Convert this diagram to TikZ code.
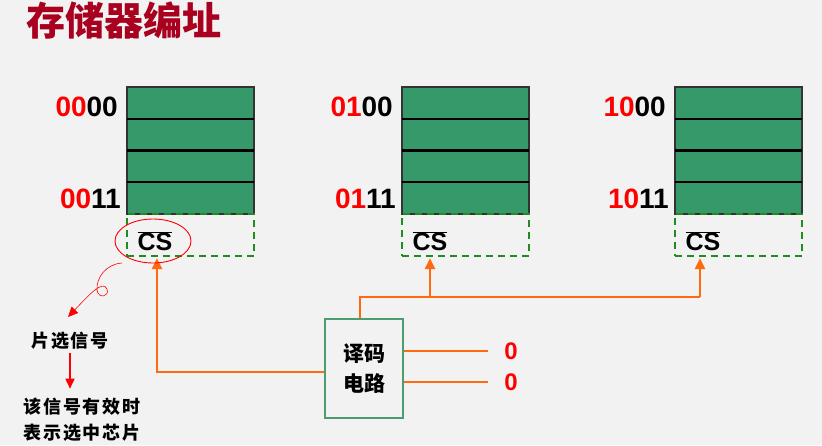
\documentclass[tikz,border=0pt]{standalone}
\usepackage{fontspec}
\setmainfont{Liberation Sans}
\newfontfamily\cjk{Noto Sans CJK SC}
\newfontfamily\cjkw{Noto Sans CJK SC}[LetterSpace=10]
\usetikzlibrary{arrows.meta,shapes.geometric}
\definecolor{bgray}{HTML}{F2F2F2}
\definecolor{titlered}{HTML}{A8001E}
\definecolor{memgreen}{HTML}{35996A}
\definecolor{dashgreen}{HTML}{1E8C1E}
\definecolor{decgreen}{HTML}{4A9E6E}
\definecolor{wireorange}{HTML}{FF6A10}
\begin{document}
\begin{tikzpicture}[x=1pt, y=-1pt,
  title/.style={font=\cjk\bfseries\fontsize{39}{42}\selectfont, text=titlered},
  memblk/.style={draw=black!80, line width=1.5pt, fill=memgreen, minimum width=127pt, minimum height=127pt, inner sep=0pt},
  rowline/.style={black, line width=2.4pt},
  csbox/.style={draw=dashgreen, line width=2.2pt, dash pattern=on 7pt off 5pt, minimum width=127pt, minimum height=42pt, inner sep=0pt},
  cstext/.style={font=\bfseries\fontsize{25}{27}\selectfont, inner sep=0pt},
  addr/.style={font=\bfseries\fontsize{28}{30}\selectfont, inner sep=0pt},
  decbox/.style={draw=decgreen, line width=2.2pt, minimum width=78pt, minimum height=99pt, align=center, font=\cjk\bfseries\fontsize{21}{30}\selectfont},
  wire/.style={wireorange, line width=2.4pt},
  tip/.style={-{Triangle[length=11pt,width=10pt]}},
  note/.style={font=\cjkw\bfseries\fontsize{18}{26}\selectfont, align=center},
  hand/.style={red, line width=0.6pt},
  zero/.style={text=red, font=\bfseries\fontsize{24}{26}\selectfont, inner sep=0pt}]
  \fill[bgray] (0,0) rectangle (822,445);
  \useasboundingbox (0,0) rectangle (822,445);
  \node[title] (ttl) at (124,21) {存储器编址};
  % three memory chips
  \foreach \x/\hi/\n in {127/00/a, 402/01/b, 675/10/c}{
    \node[memblk] (blk\n) at (\x+63.5,150.5) {};
    \foreach \r in {1,2,3}
      \draw[rowline] (\x,87+31.75*\r) -- ++(127,0);
    \node[csbox] (cs\n) at (\x+63.5,235) {};
    \node[cstext] (csl\n) at (\x+28,241) {\(\overline{\hbox{\bfseries CS}}\)};
    \node[addr, anchor=east] (lo\n) at (\x-9,107) {\textcolor{red}{\hi}00};
    \node[addr, anchor=east] (up\n) at (\x-6,199) {\textcolor{red}{\hi}11};
  }
  % decoder
  \node[decbox] (dec) at (364,368.5) {译码\\电路};
  \coordinate (jn) at (360,297);
  \coordinate (tb) at (430,297);
  \coordinate (tc) at (700,297);
  \coordinate (la) at (157,372);
  \draw[wire] (dec.north -| jn) -- (jn) -- (tc);
  \draw[wire, tip] (tb) -- ([yshift=-1pt]tb |- csb.south);
  \draw[wire, tip] (tc) -- ([yshift=-1pt]tc |- csc.south);
  \draw[wire, tip] (dec.west |- la) -| ([yshift=-1pt]la |- csa.south);
  \coordinate (o1) at (488,351);
  \coordinate (o2) at (488,382);
  \draw[wire] (dec.east |- o1) -- (o1);
  \draw[wire] (dec.east |- o2) -- (o2);
  \node[zero] (z1) at (511,351) {0};
  \node[zero] (z2) at (511,382) {0};
  % chip select remark
  \node[draw=red, line width=0.9pt, ellipse, minimum width=76pt, minimum height=44pt] (ring) at (153,241) {};
  \node[note] (sel) at (70,341) {片选信号};
  \node[note] (rem) at (82,420) {该信号有效时\\表示选中芯片};
  \draw[hand, -{Triangle[length=10pt,width=9pt]}] (122,263) .. controls (106,264) and (96,278) .. (97,290)
    .. controls (98,299) and (110,297) .. (107,289) .. controls (103,279) and (88,296) .. (68,317);
  \draw[red, line width=1.6pt, -{Triangle[length=10pt,width=9pt]}] (sel.south) -- ([yshift=6pt]rem.north -| sel.south);
\end{tikzpicture}
\end{document}
